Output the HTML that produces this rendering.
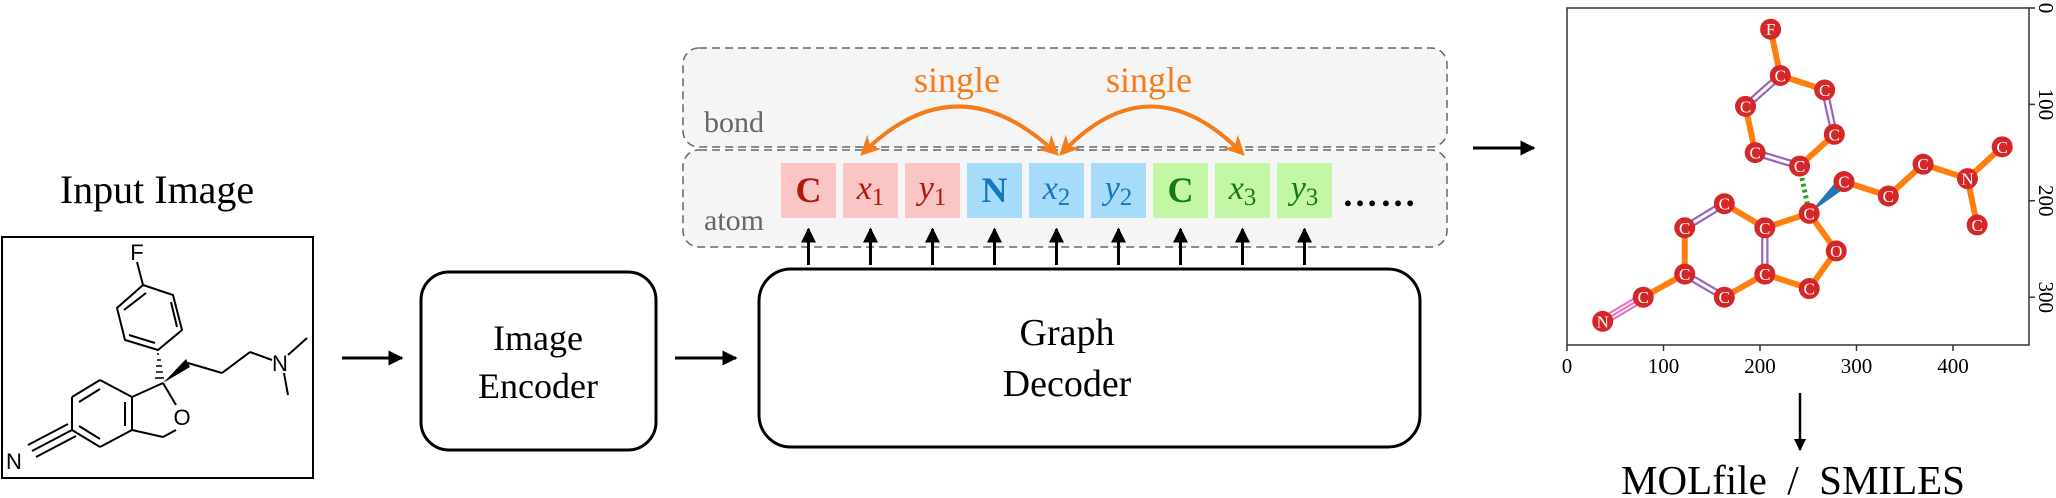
<!DOCTYPE html>
<html><head><meta charset="utf-8"><style>
html,body{margin:0;padding:0;background:#fff}
svg{display:block}
.serif{font-family:"Liberation Serif",serif}
.sans{font-family:"Liberation Sans",sans-serif}
</style></head><body>
<svg id="fig" width="2056" height="498" viewBox="0 0 2056 498" xmlns="http://www.w3.org/2000/svg">
<defs>
<marker id="ah" viewBox="0 0 10 10" refX="9" refY="5" markerWidth="5" markerHeight="5" orient="auto-start-reverse"><path d="M0,0 L10,5 L0,10 z" fill="#000"/></marker>
<marker id="oh" viewBox="0 0 10 10" refX="8" refY="5" markerWidth="5" markerHeight="5" orient="auto-start-reverse"><path d="M0,0 L10,5 L0,10 L3,5 z" fill="#f47c1a"/></marker>
</defs>

<!-- Input image -->
<text class="serif" x="157" y="203" font-size="40" text-anchor="middle">Input Image</text>
<g>
<rect x="2" y="237" width="311" height="241" fill="#fff" stroke="#000" stroke-width="2"/>
<g stroke="#000" stroke-width="2" fill="none">
<line x1="137" y1="262" x2="143" y2="285"/>
<polygon points="143,285 173,295 182,330 158,350 125,340 117,308"/>
<line x1="146" y1="293" x2="124" y2="310"/><line x1="171" y1="302" x2="177" y2="327"/><line x1="155" y1="343" x2="129" y2="335"/>
<line x1="72" y1="397" x2="100" y2="380"/><line x1="100" y1="380" x2="132" y2="397"/><line x1="132" y1="397" x2="132" y2="430"/>
<line x1="132" y1="430" x2="100" y2="447"/><line x1="100" y1="447" x2="72" y2="430"/><line x1="72" y1="430" x2="72" y2="397"/>
<line x1="79" y1="402" x2="100" y2="389"/><line x1="125" y1="402" x2="125" y2="426"/><line x1="79" y1="426" x2="100" y2="439"/>
<line x1="132" y1="397" x2="163" y2="383"/><line x1="163" y1="383" x2="176" y2="405"/><line x1="176" y1="430" x2="163" y2="437"/><line x1="163" y1="437" x2="132" y2="430"/>
<line x1="188" y1="363" x2="222" y2="373"/><line x1="222" y1="373" x2="250" y2="352"/><line x1="250" y1="352" x2="272" y2="360"/>
<line x1="288" y1="355" x2="307" y2="338"/><line x1="284" y1="373" x2="288" y2="395"/>
<line x1="72" y1="430" x2="32" y2="451"/><line x1="68" y1="424" x2="28" y2="445"/><line x1="76" y1="436" x2="36" y2="457"/>
</g>
<polygon points="163,383 186,359 190,367" fill="#000"/>
<g stroke="#000" stroke-width="1.5"><line x1="159" y1="354" x2="157" y2="354"/><line x1="161" y1="360" x2="157" y2="360"/><line x1="162" y1="366" x2="156" y2="366"/><line x1="163" y1="372" x2="156" y2="372"/><line x1="164" y1="378" x2="155" y2="378"/></g>
<g class="sans" font-size="22" text-anchor="middle" fill="#000">
<text x="137" y="260">F</text><text x="182" y="425">O</text><text x="280" y="371">N</text><text x="14" y="469">N</text></g>
</g>

<line x1="342" y1="358" x2="402" y2="358" stroke="#000" stroke-width="3" marker-end="url(#ah)"/>
<rect x="421" y="272" width="235" height="178" rx="28" fill="#fff" stroke="#000" stroke-width="3"/>
<text class="serif" font-size="36" text-anchor="middle"><tspan x="538" y="350">Image</tspan><tspan x="538" y="398">Encoder</tspan></text>
<line x1="675" y1="358" x2="736" y2="358" stroke="#000" stroke-width="3" marker-end="url(#ah)"/>

<rect x="683" y="48" width="764" height="99" rx="16" fill="#f5f5f5" stroke="#666" stroke-width="1.5" stroke-dasharray="8,5"/>
<rect x="683" y="150" width="764" height="97" rx="16" fill="#f5f5f5" stroke="#666" stroke-width="1.5" stroke-dasharray="8,5"/>
<text class="serif" x="704" y="132" font-size="30" fill="#666">bond</text>
<text class="serif" x="704" y="230" font-size="30" fill="#666">atom</text>
<g id="tokens"></g>
<text class="serif" x="1380" y="206" font-size="36" font-weight="bold" text-anchor="middle" letter-spacing="2">……</text>

<path d="M863,153 Q957,60 1056,153" fill="none" stroke="#f47c1a" stroke-width="4" marker-start="url(#oh)" marker-end="url(#oh)"/>
<path d="M1062,153 Q1150,60 1242,153" fill="none" stroke="#f47c1a" stroke-width="4" marker-start="url(#oh)" marker-end="url(#oh)"/>
<text class="serif" x="957" y="92" font-size="36" fill="#f47c1a" text-anchor="middle">single</text>
<text class="serif" x="1149" y="92" font-size="36" fill="#f47c1a" text-anchor="middle">single</text>

<rect x="759" y="269" width="661" height="178" rx="32" fill="#fff" stroke="#000" stroke-width="3"/>
<text class="serif" font-size="38" text-anchor="middle"><tspan x="1067" y="345">Graph</tspan><tspan x="1067" y="396">Decoder</tspan></text>

<line x1="1473" y1="148" x2="1534" y2="148" stroke="#000" stroke-width="3" marker-end="url(#ah)"/>

<g id="plot"></g>

<line x1="1800" y1="393" x2="1800" y2="450" stroke="#000" stroke-width="2.5" marker-end="url(#ah)"/>
<text class="serif" x="1793" y="494" font-size="41" text-anchor="middle" xml:space="preserve">MOLfile  /  SMILES</text>
</svg>
<script>
var NS="http://www.w3.org/2000/svg";
function mk(t,a,p){var e=document.createElementNS(NS,t);for(var k in a)e.setAttribute(k,a[k]);p.appendChild(e);return e;}
// tokens
var tokLabels=["C","x","y","N","x","y","C","x","y"];
var tokSubs=["","1","1","","2","2","","3","3"];
var tokGroup=[0,0,0,1,1,1,2,2,2];
var fills=["#f9c5c5","#a6dbf9","#c3f7a6"], inks=["#b3160a","#1477c0","#157a15"];
var tg=document.getElementById("tokens");
for(var i=0;i<tokLabels.length;i++){
  var x=781+62*i, g=tokGroup[i];
  var r=mk("rect",{x:x,y:163,width:55,height:55,fill:fills[g]},tg);
  
  
  var t=mk("text",{x:x+27.5,y:tokSubs[i]?199:202,"text-anchor":"middle","class":"serif","font-size":tokSubs[i]?"34":"36",fill:inks[g]},tg);
  
  
  if(tokSubs[i]){var a=mk("tspan",{"font-style":"italic"},t);a.textContent=tokLabels[i];var b=mk("tspan",{"font-size":"25",dy:"6"},t);b.textContent=tokSubs[i];}
  else{t.setAttribute("font-weight","bold");t.textContent=tokLabels[i];}
  var ar=mk("line",{x1:x+27.5,y1:265,x2:x+27.5,y2:229,stroke:"#000","stroke-width":"3","marker-end":"url(#ah)"},tg);
  
  
}
// plot data
var atomEl=["F","C","C","C","C","C","C","C","C","C","N","C","C","C","C","C","C","O","C","C","C","C","C","N"];
var atomX=[211,221,267,185,277,195,241,287,333,369,415,451,425,251,163,122,205,279,122,205,163,251,79,37];
var atomY=[22,70,85,102,131,150,164,180,195,162,177,144,225,213,203,228,228,252,276,276,300,291,300,325];
var bondA=[0,1,1,2,3,5,4,6,13,7,8,9,10,10,13,13,17,21,16,16,14,15,18,20,18,22];
var bondB=[1,3,2,4,5,6,6,13,7,8,9,10,11,12,16,17,21,19,19,14,15,18,20,19,22,23];
var bondT=["s","d","s","d","s","d","s","h","w","s","s","s","s","s","s","s","s","s","d","s","d","s","d","s","s","t"];
var xTicks=[0,100,200,300,400], yTicks=[0,100,200,300];
var X0=1567,Y0=8,SX=0.965,SY=0.964;
function X(d){return X0+d*SX;} function Y(d){return Y0+d*SY;}
var P=document.getElementById("plot");
var fr=mk("rect",{x:1567,y:8,width:462,height:337,fill:"#fff",stroke:"#333","stroke-width":"1.5"},P);


xTicks.forEach(function(v){
  var l=mk("line",{x1:X(v),y1:345,x2:X(v),y2:351,stroke:"#333","stroke-width":"1.5"},P);
  
  
  var t=mk("text",{x:X(v),y:373,"text-anchor":"middle","class":"serif","font-size":"21"},P);t.textContent=v;
  
  
});
yTicks.forEach(function(v){
  var l=mk("line",{x1:2029,y1:Y(v),x2:2035,y2:Y(v),stroke:"#333","stroke-width":"1.5"},P);
  
  
  var t=mk("text",{x:0,y:0,"text-anchor":"middle","class":"serif","font-size":"21",transform:"translate(2039,"+Y(v)+") rotate(90)"},P);t.textContent=v;
  
  
});
for(var i=0;i<bondA.length;i++){
  var x1=X(atomX[bondA[i]]),y1=Y(atomY[bondA[i]]),x2=X(atomX[bondB[i]]),y2=Y(atomY[bondB[i]]);
  var dx=x2-x1,dy=y2-y1,L=Math.sqrt(dx*dx+dy*dy),nx=-dy/L,ny=dx/L,t=bondT[i],e;
  if(t=="s"){e=mk("line",{x1:x1,y1:y1,x2:x2,y2:y2,stroke:"#ff7f0e","stroke-width":"6"},P);}
  else if(t=="d"||t=="t"){
    e=mk("g",{},P);var col=t=="d"?"#9467bd":"#e377c2",offs=t=="d"?[-2.6,2.6]:[-3.5,0,3.5];
    offs.forEach(function(o){mk("line",{x1:x1+nx*o,y1:y1+ny*o,x2:x2+nx*o,y2:y2+ny*o,stroke:col,"stroke-width":"2.2"},e);});
  }
  else if(t=="h"){e=mk("line",{x1:x1,y1:y1,x2:x2,y2:y2,stroke:"#2ca02c","stroke-width":"5","stroke-dasharray":"3,3"},P);}
  else {e=mk("polygon",{points:x1+","+y1+" "+(x2+nx*6)+","+(y2+ny*6)+" "+(x2-nx*6)+","+(y2-ny*6),fill:"#1f77b4"},P);}
  
  
}
for(var i=0;i<atomEl.length;i++){
  var c=mk("circle",{cx:X(atomX[i]),cy:Y(atomY[i]),r:10.5,fill:"#d62728"},P);
  
  
  var t=mk("text",{x:X(atomX[i]),y:Y(atomY[i])+6,"text-anchor":"middle","class":"serif","font-size":"17",fill:"#fff"},P);t.textContent=atomEl[i];
  
  
}
</script>
</body></html>
